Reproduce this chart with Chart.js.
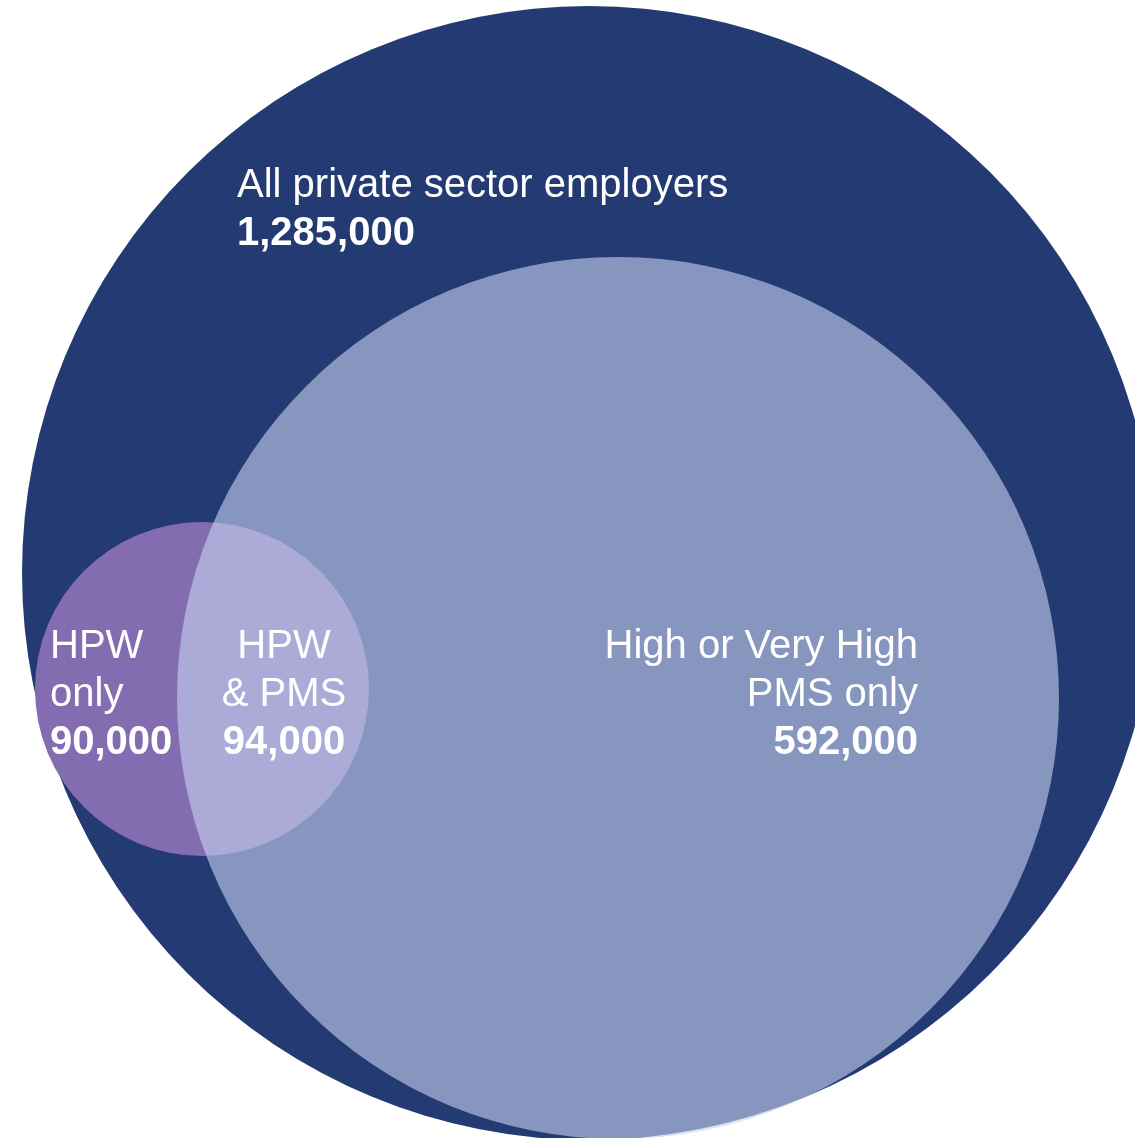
<!DOCTYPE html>
<html>
<head>
<meta charset="utf-8">
<script src="https://cdn.jsdelivr.net/npm/chart.js@4/dist/chart.umd.min.js"></script>
<style>
    html, body { margin: 0; padding: 0; background: #ffffff; }
    #box { width: 1135px; height: 1138px; position: relative; }
</style>
</head>
<body>
<div id="box"><canvas id="venn"></canvas></div>
<script>
// circles of the diagram, in chart units (x: 0-1135, y: 0-1138 from the top)
const setNames = ['All private sector employers', 'HPW', 'High or Very High PMS'];
const setCenterX = [589, 202, 618];
const setCenterY = [573, 689, 698];
const setRadius = [567, 167, 441];
const setColors = ['#243a73', '#836db0', 'rgba(198, 209, 238, 0.61)'];

// region labels and counts
const regionLines = [
    ['All private sector employers'],
    ['HPW', 'only'],
    ['HPW', '& PMS'],
    ['High or Very High', 'PMS only']
];
const regionValues = [1285000, 90000, 94000, 592000];
const regionX = [237, 50, 284, 918];
const regionY = [197, 658, 658, 658];
const regionAlign = ['left', 'left', 'center', 'right'];

const FONT = '"Liberation Sans", Arial, sans-serif';

function radiusFromScale(ctx) {
    const sx = ctx.chart.scales.x;
    const p = ctx.raw;
    if (!sx || !p) return 0;
    return Math.abs(sx.getPixelForValue(p.x + p.rad) - sx.getPixelForValue(p.x));
}

const labelPlugin = {
    id: 'regionLabels',
    afterDatasetsDraw(chart) {
        const { ctx, scales: { x, y } } = chart;
        ctx.save();
        ctx.fillStyle = '#ffffff';
        ctx.textBaseline = 'alphabetic';
        regionLines.forEach((lines, i) => {
            const px = x.getPixelForValue(regionX[i]);
            let py = y.getPixelForValue(regionY[i]);
            ctx.textAlign = regionAlign[i];
            ctx.font = '40px ' + FONT;
            lines.forEach(t => {
                ctx.fillText(t, px, py);
                py += 48;
            });
            ctx.font = 'bold 40px ' + FONT;
            ctx.fillText(regionValues[i].toLocaleString('en-US'), px, py);
        });
        ctx.restore();
    }
};

function main() {
    const ctx = document.getElementById('venn').getContext('2d');
    // drawing order: bigger "order" is painted first
    const drawOrder = [3, 2, 1];

    new Chart(ctx, {
        type: 'scatter',
        data: {
            datasets: setNames.map((name, i) => ({
                label: name,
                data: [{ x: setCenterX[i], y: setCenterY[i], rad: setRadius[i] }],
                backgroundColor: setColors[i],
                borderWidth: 0,
                pointRadius: radiusFromScale,
                pointHoverRadius: radiusFromScale,
                order: drawOrder[i],
                clip: false
            }))
        },
        options: {
            animation: false,
            events: [],
            responsive: true,
            maintainAspectRatio: false,
            layout: { padding: 0 },
            plugins: {
                legend: { display: false },
                tooltip: { enabled: false }
            },
            scales: {
                x: { type: 'linear', min: 0, max: 1135, display: false },
                y: { type: 'linear', min: 0, max: 1138, reverse: true, display: false }
            }
        },
        plugins: [labelPlugin]
    });
}

window.addEventListener('DOMContentLoaded', main);
</script>
</body>
</html>
